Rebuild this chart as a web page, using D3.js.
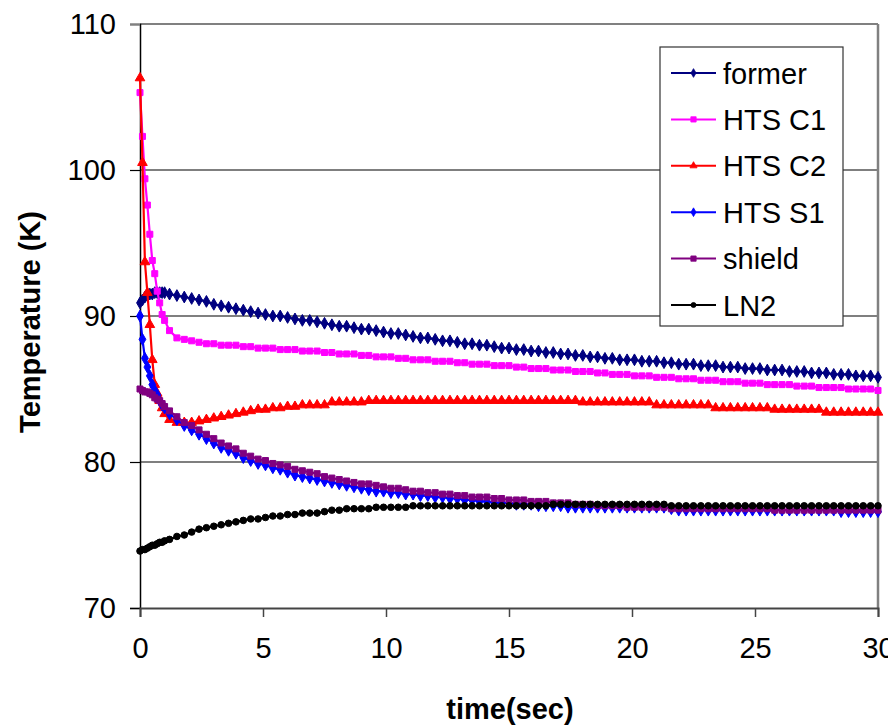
<!DOCTYPE html>
<html>
<head>
<meta charset="utf-8">
<script src="https://cdn.jsdelivr.net/npm/d3@7"></script>
<style>
  body { margin: 0; background: #fff; }
  text { font-family: "Liberation Sans", Arial, sans-serif; }
</style>
</head>
<body>
<script>
// ---------------- DATA ----------------
const time = [0,0.1,0.2,0.3,0.4,0.5,0.6,0.7,0.8,0.9,1.0,
  1.2,1.5,1.8,2.1, 2.4,2.7,3.0,3.3, 3.6,3.9,4.2,4.5, 4.8,5.1,5.4,5.7,
  6.0,6.3,6.6,6.9, 7.2,7.5,7.8,8.1, 8.4,8.7,9.0,9.3, 9.6,9.9,10.2,10.5,
  10.8,11.1,11.4,11.7, 12.0,12.3,12.6,12.9, 13.2,13.5,13.8,14.1, 14.4,14.7,15.0,15.3,
  15.6,15.9,16.2,16.5, 16.8,17.1,17.4,17.7, 18.0,18.3,18.6,18.9, 19.2,19.5,19.8,20.1,
  20.4,20.7,21.0,21.3, 21.6,21.9,22.2,22.5, 22.8,23.1,23.4,23.7, 24.0,24.3,24.6,24.9,
  25.2,25.5,25.8,26.1, 26.4,26.7,27.0,27.3, 27.6,27.9,28.2,28.5, 28.8,29.1,29.4,29.7, 30.0];

const former = [90.9,91.1,91.3,91.4,91.5,91.5,91.6,91.6,91.6,91.6,91.6,
  91.5,91.4,91.3,91.2, 91.1,91.0,90.8,90.7, 90.6,90.5,90.4,90.3, 90.2,90.1,90.0,90.0,
  89.9,89.8,89.7,89.7, 89.6,89.5,89.4,89.3, 89.3,89.2,89.1,89.1, 89.0,88.9,88.8,88.8,
  88.7,88.6,88.5,88.5, 88.4,88.3,88.3,88.2, 88.1,88.1,88.0,88.0, 87.9,87.8,87.8,87.7,
  87.7,87.6,87.6,87.5, 87.5,87.4,87.4,87.3, 87.3,87.2,87.2,87.1, 87.1,87.0,87.0,87.0,
  86.9,86.9,86.9,86.8, 86.8,86.7,86.7,86.7, 86.6,86.6,86.6,86.5, 86.5,86.5,86.4,86.4,
  86.4,86.3,86.3,86.3, 86.2,86.2,86.2,86.1, 86.1,86.1,86.0,86.0, 86.0,85.9,85.9,85.9, 85.8];

const htsC1 = [105.3,102.3,99.4,97.6,95.6,93.8,92.9,91.7,90.9,90.1,89.7,
  89.0,88.5,88.4,88.3, 88.2,88.1,88.1,88.0, 88.0,88.0,87.9,87.9, 87.8,87.8,87.8,87.7,
  87.7,87.7,87.6,87.6, 87.6,87.5,87.5,87.4, 87.4,87.4,87.3,87.3, 87.2,87.2,87.2,87.1,
  87.1,87.0,87.0,87.0, 86.9,86.9,86.9,86.8, 86.8,86.7,86.7,86.7, 86.6,86.6,86.6,86.5,
  86.5,86.4,86.4,86.4, 86.3,86.3,86.3,86.2, 86.2,86.2,86.1,86.1, 86.0,86.0,86.0,85.9,
  85.9,85.9,85.8,85.8, 85.8,85.7,85.7,85.7, 85.6,85.6,85.6,85.5, 85.5,85.5,85.4,85.4,
  85.4,85.3,85.3,85.3, 85.3,85.2,85.2,85.2, 85.1,85.1,85.1,85.1, 85.0,85.0,85.0,85.0, 84.9];

const htsC2 = [106.3,100.5,93.7,91.6,89.4,87.0,85.3,84.7,84.2,83.7,83.3,
  82.9,82.7,82.7,82.7, 82.8,82.9,83.0,83.1, 83.2,83.3,83.4,83.5, 83.6,83.6,83.7,83.7,
  83.8,83.8,83.9,83.9, 83.9,83.9,84.1,84.1, 84.1,84.1,84.1,84.2, 84.2,84.2,84.2,84.2,
  84.2,84.2,84.2,84.2, 84.2,84.2,84.2,84.2, 84.2,84.2,84.2,84.2, 84.2,84.2,84.2,84.2,
  84.2,84.2,84.2,84.2, 84.2,84.2,84.2,84.2, 84.1,84.1,84.1,84.1, 84.1,84.1,84.1,84.1,
  84.1,84.1,83.9,83.9, 83.9,83.9,83.9,83.9, 83.9,83.9,83.7,83.7, 83.7,83.7,83.7,83.7,
  83.7,83.7,83.6,83.6, 83.6,83.6,83.6,83.6, 83.6,83.4,83.4,83.4, 83.4,83.4,83.4,83.4, 83.4];

const htsS1 = [90.0,88.4,87.1,86.5,85.9,85.3,84.9,84.6,84.2,83.9,83.7,
  83.3,82.9,82.5,82.2, 81.9,81.6,81.3,81.0, 80.8,80.6,80.3,80.1, 79.9,79.8,79.6,79.5,
  79.3,79.1,79.0,78.9, 78.8,78.7,78.6,78.5, 78.4,78.3,78.2,78.1, 78.0,78.0,77.9,77.9,
  77.8,77.8,77.7,77.7, 77.6,77.6,77.5,77.5, 77.4,77.4,77.3,77.3, 77.2,77.2,77.2,77.1,
  77.1,77.1,77.0,77.0, 77.0,77.0,76.9,76.9, 76.9,76.9,76.9,76.9, 76.9,76.9,76.9,76.9,
  76.9,76.9,76.9,76.9, 76.8,76.7,76.7,76.7, 76.7,76.7,76.7,76.7, 76.7,76.7,76.7,76.7,
  76.7,76.7,76.7,76.7, 76.7,76.7,76.7,76.7, 76.7,76.7,76.7,76.6, 76.6,76.6,76.6,76.6, 76.6];

const shield = [85.0,84.9,84.8,84.8,84.7,84.6,84.4,84.3,84.2,84.0,83.8,
  83.5,83.1,82.7,82.5, 82.2,81.9,81.6,81.3, 81.1,80.9,80.6,80.4, 80.2,80.1,79.9,79.8,
  79.7,79.5,79.4,79.3, 79.2,79.0,78.9,78.8, 78.7,78.6,78.5,78.5, 78.4,78.3,78.2,78.2,
  78.1,78.0,78.0,77.9, 77.9,77.8,77.8,77.7, 77.7,77.6,77.6,77.6, 77.5,77.5,77.4,77.4,
  77.4,77.3,77.3,77.3, 77.2,77.2,77.2,77.1, 77.1,77.1,77.0,77.0, 77.0,77.0,76.9,76.9,
  76.9,76.9,76.9,76.9, 76.8,76.8,76.8,76.8, 76.8,76.8,76.8,76.8, 76.8,76.8,76.8,76.8,
  76.8,76.8,76.7,76.7, 76.7,76.7,76.7,76.7, 76.7,76.7,76.7,76.7, 76.7,76.7,76.7,76.7, 76.7];

const ln2 = [73.9,74.0,74.0,74.1,74.2,74.3,74.3,74.4,74.5,74.5,74.6,
  74.7,74.9,75.0,75.2, 75.4,75.5,75.6,75.7, 75.8,75.9,76.0,76.1, 76.1,76.2,76.3,76.3,
  76.4,76.4,76.5,76.5, 76.5,76.6,76.7,76.7, 76.8,76.8,76.8,76.8, 76.9,76.9,76.9,76.9,
  76.9,77.0,77.0,77.0, 77.0,77.0,77.0,77.0, 77.0,77.0,77.0,77.0, 77.0,77.0,77.0,77.0,
  77.0,77.0,77.0,77.0, 77.1,77.1,77.1,77.1, 77.1,77.1,77.1,77.1, 77.1,77.1,77.1,77.1,
  77.1,77.1,77.1,77.1, 77.0,77.0,77.0,77.0, 77.0,77.0,77.0,77.0, 77.0,77.0,77.0,77.0,
  77.0,77.0,77.0,77.0, 77.0,77.0,77.0,77.0, 77.0,77.0,77.0,77.0, 77.0,77.0,77.0,77.0, 77.0];

const seriesNames = ["former", "HTS C1", "HTS C2", "HTS S1", "shield", "LN2"];
const xTicks = [0, 5, 10, 15, 20, 25, 30];
const yTicks = [70, 80, 90, 100, 110];
const xTitle = "time(sec)";
const yTitle = "Temperature (K)";

// ---------------- STYLE ----------------
const seriesValues = [former, htsC1, htsC2, htsS1, shield, ln2];
const colors = ["#000080", "#FF00FF", "#FF0000", "#0000FF", "#800080", "#000000"];
const symbols = [d3.symbolDiamond, d3.symbolSquare, d3.symbolTriangle, d3.symbolDiamond, d3.symbolSquare, d3.symbolCircle];
const symSizes = [40, 36, 40, 40, 36, 34];
const legSizes = [22, 28, 22, 22, 28, 20];

const W = 888, H = 728;
const pL = 140, pR = 878, pT = 24, pB = 608;

const svg = d3.select("body").append("svg").attr("width", W).attr("height", H);

const x = d3.scaleLinear().domain([0, 30]).range([pL, pR]);
const y = d3.scaleLinear().domain([70, 110]).range([pB, pT]);

// gridlines (inner)
svg.append("g").selectAll("line").data(yTicks.filter(d => d > 70 && d < 110)).join("line")
  .attr("x1", pL).attr("x2", pR)
  .attr("y1", d => y(d)).attr("y2", d => y(d))
  .attr("stroke", "#000").attr("stroke-width", 1.2);

// plot border top & right (grey)
svg.append("line").attr("x1", pL).attr("x2", pR).attr("y1", y(110)).attr("y2", y(110))
  .attr("stroke", "#808080").attr("stroke-width", 2);
svg.append("line").attr("x1", pR).attr("x2", pR).attr("y1", pT).attr("y2", pB)
  .attr("stroke", "#808080").attr("stroke-width", 2.5);

// Y axis
const yAxis = d3.axisLeft(y).tickValues(yTicks).tickSize(10).tickPadding(14).tickFormat(d3.format("d"));
const gy = svg.append("g").attr("transform", `translate(${pL},0)`).call(yAxis);
gy.select(".domain").attr("stroke", "#000").attr("stroke-width", 1.5);
gy.selectAll(".tick line").attr("stroke", (d) => d === 110 ? "#808080" : "#000").attr("stroke-width", d => d === 110 ? 2 : 1.2);
gy.selectAll(".tick text").attr("font-size", 29).attr("fill", "#000")
  .attr("font-family", "'Liberation Sans', Arial, sans-serif");

// X axis
const xAxis = d3.axisBottom(x).tickValues(xTicks).tickSize(9).tickPadding(20).tickFormat(d3.format("d"));
const gx = svg.append("g").attr("transform", `translate(0,${pB})`).call(xAxis);
gx.select(".domain").attr("stroke", "#444").attr("stroke-width", 2);
gx.selectAll(".tick line").attr("stroke", "#444").attr("stroke-width", 1.5);
gx.selectAll(".tick text").attr("font-size", 29).attr("fill", "#000")
  .attr("font-family", "'Liberation Sans', Arial, sans-serif");

// axis titles
svg.append("text").attr("x", 510).attr("y", 719).attr("text-anchor", "middle")
  .attr("font-size", 29).attr("font-weight", "bold").text(xTitle);
svg.append("text").attr("transform", `translate(40,${(pT + pB) / 2 + 6}) rotate(-90)`)
  .attr("text-anchor", "middle").attr("font-size", 29).attr("font-weight", "bold").text(yTitle);

// series
const line = d3.line().x((d, i) => x(time[i])).y(d => y(d));
const gs = svg.append("g");
seriesValues.forEach((vals, si) => {
  const g = gs.append("g");
  g.append("path").datum(vals).attr("d", line)
    .attr("fill", "none").attr("stroke", colors[si]).attr("stroke-width", 2.2);
  g.selectAll("path.m").data(vals).join("path").attr("class", "m")
    .attr("transform", (d, i) => `translate(${x(time[i])},${y(d)})`)
    .attr("d", d3.symbol().type(symbols[si]).size(symSizes[si]))
    .attr("fill", colors[si]).attr("stroke", colors[si]).attr("stroke-width", 1);
});

// legend
const lgX = 660, lgY = 47, lgW = 183, lgH = 279;
const lg = svg.append("g");
lg.append("rect").attr("x", lgX).attr("y", lgY).attr("width", lgW).attr("height", lgH)
  .attr("fill", "#fff").attr("stroke", "#333").attr("stroke-width", 1.2);
const ly = d3.scalePoint().domain(seriesNames).range([73, 305]);
seriesNames.forEach((name, si) => {
  const yy = ly(name);
  lg.append("line").attr("x1", 671).attr("x2", 716).attr("y1", yy).attr("y2", yy)
    .attr("stroke", colors[si]).attr("stroke-width", 2);
  lg.append("path").attr("transform", `translate(693.5,${yy})`)
    .attr("d", d3.symbol().type(symbols[si]).size(legSizes[si]))
    .attr("fill", colors[si]).attr("stroke", colors[si]).attr("stroke-width", 0.8);
  lg.append("text").attr("x", 723).attr("y", yy + 10.5).attr("font-size", 29).attr("fill", "#000").text(name);
});
</script>
</body>
</html>
